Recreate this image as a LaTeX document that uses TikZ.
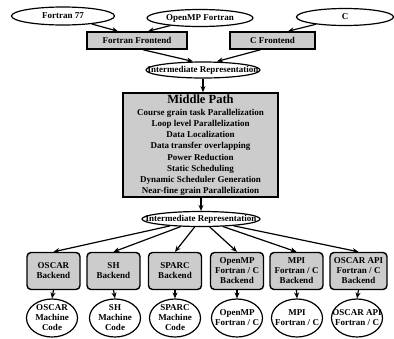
\documentclass[tikz,border=0pt]{standalone}
\usepackage{fontspec}
\setmainfont{Liberation Serif}
\usetikzlibrary{arrows.meta,shapes.geometric,calc}
\begin{document}
\begin{tikzpicture}[x=1pt,y=-1pt,
  every node/.style={font=\fontsize{9}{10}\selectfont\bfseries, inner sep=0pt, align=center},
  ell/.style={draw, ellipse, line width=1.2pt, fill=white},
  fbox/.style={draw, rectangle, line width=1.5pt, fill=black!20, minimum height=17pt},
  bbox/.style={draw, rectangle, rounded corners=4pt, line width=1.4pt, fill=black!20, minimum width=53pt, minimum height=37pt},
  arr/.style={-{Stealth[length=6pt,width=5pt]}, line width=1.2pt}
]
\useasboundingbox (0,0) rectangle (394,338);
\fill[white] (0,0) rectangle (394,338);

% top inputs (fixed-size ellipses with overlaid text)
\node[ell, minimum width=103pt, minimum height=18pt] (f77) at (63,16) {};
\node (f77t) at (f77) {Fortran 77};
\node[ell, minimum width=106pt, minimum height=17pt] (omp) at (200,18) {};
\node (ompt) at (omp) {OpenMP Fortran};
\node[ell, minimum width=97pt, minimum height=17pt] (cin) at (345,17) {};
\node (cint) at (cin) {C};

% frontends
\node[fbox, minimum width=100pt] (ff) at (137,40.5) {Fortran Frontend};
\node[fbox, minimum width=85pt] (cf) at (272.5,40.5) {C Frontend};

% IR 1
\node[ell, minimum width=114pt, minimum height=16pt] (ir1) at (203,70) {};
\node (ir1t) at (ir1) {Intermediate Representation};

% middle path
\node[draw, rectangle, line width=1.7pt, fill=black!20, minimum width=155pt, minimum height=104pt,
      font=\fontsize{9}{11.2}\selectfont\bfseries] (mp) at (200.5,145)
  {{\fontsize{12.5}{13}\selectfont Middle Path}\\[1pt]
   Course grain task Parallelization\\
   Loop level Parallelization\\
   Data Localization\\
   Data transfer overlapping\\
   Power Reduction\\
   Static Scheduling\\
   Dynamic Scheduler Generation\\
   Near-fine grain Parallelization};

% IR 2
\node[ell, minimum width=118pt, minimum height=15pt] (ir2) at (201,219) {};
\node (ir2t) at (ir2) {Intermediate Representation};

% backends
\node[bbox] (b1) at (53.5,271) {OSCAR\\Backend};
\node[bbox] (b2) at (113.5,271) {SH\\Backend};
\node[bbox] (b3) at (175,271) {SPARC\\Backend};
\node[bbox] (b4) at (237,271) {OpenMP\\Fortran / C\\Backend};
\node[bbox] (b5) at (296.5,271) {MPI\\Fortran / C\\Backend};
\node[bbox, minimum width=57pt] (b6) at (358.5,271) {OSCAR API\\Fortran / C\\Backend};

% outputs
\foreach \n/\x in {1/52,2/115,3/175,4/237,5/297,6/357}{
  \node[ell, minimum width=51pt, minimum height=38pt] (o\n) at (\x,318) {};
}
\node (o1t) at (o1) {OSCAR\\Machine\\Code};
\node (o2t) at (o2) {SH\\Machine\\Code};
\node (o3t) at (o3) {SPARC\\Machine\\Code};
\node (o4t) at (o4) {OpenMP\\Fortran / C};
\node (o5t) at (o5) {MPI\\Fortran / C};
\node (o6t) at (o6) {OSCAR API\\Fortran / C};

% connectors
\coordinate (ffa) at ($(ff.north)+(-19,0)$);
\coordinate (ffb) at ($(ff.north)+(11,0)$);
\coordinate (cfa) at ($(cf.north)+(15.5,0)$);
\coordinate (ffs) at ($(ff.south)+(6,0)$);
\coordinate (cfs) at ($(cf.south)+(-12,0)$);
\coordinate (ira) at ($(ir1.north)+(-10,0)$);
\coordinate (irb) at ($(ir1.north)+(14,0)$);
\draw[arr] (f77) -- (ffa);
\draw[arr] (omp) -- (ffb);
\draw[arr] (cin) -- (cfa);
\draw[arr] (ffs) -- (ira);
\draw[arr] (cfs) -- (irb);
\draw[arr] (ir1.south) -- (ir1.south |- mp.north);
\draw[arr] (ir2.north |- mp.south) -- (ir2.north);
\foreach \n in {1,...,6}{
  \draw[arr] (ir2) -- (b\n.north);
  \draw[arr] (b\n.south) -- (o\n.north);
}
\end{tikzpicture}
\end{document}
